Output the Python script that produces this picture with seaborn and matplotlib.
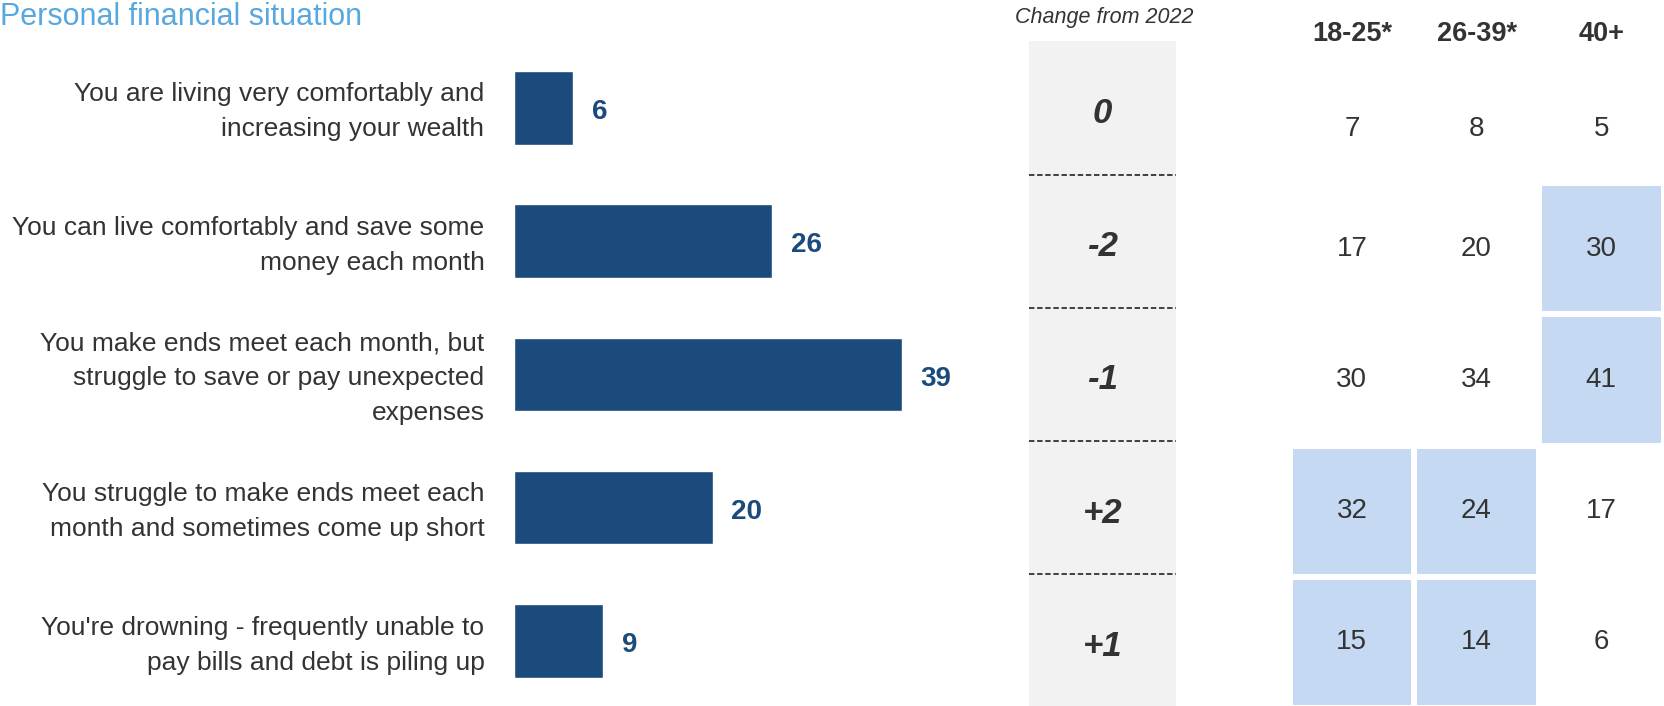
import matplotlib
matplotlib.use("Agg")
import matplotlib.pyplot as plt
from matplotlib.colors import ListedColormap
from matplotlib.transforms import ScaledTranslation
import numpy as np
import pandas as pd
import seaborn as sns

# data
categories = [
    "You are living very comfortably and\nincreasing your wealth",
    "You can live comfortably and save some\nmoney each month",
    "You make ends meet each month, but\nstruggle to save or pay unexpected\nexpenses",
    "You struggle to make ends meet each\nmonth and sometimes come up short",
    "You're drowning - frequently unable to\npay bills and debt is piling up",
]
totals = [6, 26, 39, 20, 9]
change_2022 = ["0", "-2", "-1", "+2", "+1"]
age_groups = ["18-25*", "26-39*", "40+"]
age_18_25 = [7, 17, 30, 32, 15]
age_26_39 = [8, 20, 34, 24, 14]
age_40_plus = [5, 30, 41, 17, 6]
# cells shaded light blue in the reference
hl_18_25 = [0, 0, 0, 1, 1]
hl_26_39 = [0, 0, 0, 1, 1]
hl_40_plus = [0, 1, 1, 0, 0]

sns.set_style("white")
plt.rcParams['font.family'] = ['Liberation Sans Narrow', 'Liberation Sans', 'DejaVu Sans']

BAR = "#1B4A7C"
TXT = "#333333"
W, H = 1664, 706
fig = plt.figure(figsize=(W / 100, H / 100), dpi=100)

fig.text(0, 1 - 25 / H, "Personal financial situation", color="#58A8E0",
         fontsize=22, va="baseline", ha="left")

# bars
df = pd.DataFrame({"cat": categories, "val": totals})
ax = fig.add_axes([513.6 / W, -1.7 / H, 497.5 / W, 666.5 / H])
sns.barplot(data=df, y="cat", x="val", color=BAR, width=0.55, saturation=1, ax=ax)
ax.set_xlim(0, 50)
ax.set_ylim(4.5, -0.5)
ax.set_xlabel("")
ax.set_ylabel("")
ax.set_xticks([])
ax.tick_params(axis="y", length=0, pad=21)
nudge = ScaledTranslation(0, 4 / 100, fig.dpi_scale_trans)
for lab in ax.get_yticklabels():
    lab.set_fontsize(19)
    lab.set_color(TXT)
    lab.set_linespacing(1.58)
    lab.set_horizontalalignment("right")
    lab.set_transform(lab.get_transform() + nudge)
for i, v in enumerate(totals):
    ax.annotate(str(v), xy=(v, i), xytext=(13.5, -3), textcoords="offset points",
                va="center", ha="left", fontsize=20, fontweight="bold", color=BAR)
sns.despine(ax=ax, left=True, bottom=True)

# change from 2022 column
ax2 = fig.add_axes([1029 / W, -1.7 / H, 147 / W, 666.5 / H])
ax2.set_facecolor("#F2F2F2")
ax2.set_xlim(0, 1)
ax2.set_ylim(4.5, -0.5)
for y in [0.5, 1.5, 2.5, 3.5]:
    ax2.axhline(y, color=TXT, lw=1.3, ls=(0, (3, 1.5)))
for i, c in enumerate(change_2022):
    ax2.text(0.5, i + 0.04, c, ha="center", va="center", fontsize=25,
             fontweight="bold", fontstyle="italic", color=TXT)
ax2.set_xticks([])
ax2.set_yticks([])
for s in ax2.spines.values():
    s.set_visible(False)
fig.text(1104 / W, 1 - 18 / H, "Change from 2022", ha="center", va="center",
         fontsize=15.5, fontstyle="italic", color=TXT)

# age table
vals = pd.DataFrame({age_groups[0]: age_18_25, age_groups[1]: age_26_39,
                     age_groups[2]: age_40_plus})
hl = pd.DataFrame({age_groups[0]: hl_18_25, age_groups[1]: hl_26_39,
                   age_groups[2]: hl_40_plus})
ax3 = fig.add_axes([1289.5 / W, -2 / H, 374 / W, 656 / H])
sns.heatmap(hl, annot=vals, fmt="d", cmap=ListedColormap(["white", "#C5DAF2"]),
            vmin=0, vmax=1, cbar=False, linewidths=3, linecolor="white",
            yticklabels=False, ax=ax3,
            annot_kws=dict(fontsize=20, color=TXT))
# first row numbers sit a little lower in the reference
for t in ax3.texts[:3]:
    x0, y0 = t.get_position()
    t.set_position((x0, y0 + 0.09))
ax3.xaxis.tick_top()
ax3.tick_params(axis="x", length=0, pad=3.5)
for lab in ax3.get_xticklabels():
    lab.set_fontsize(19.5)
    lab.set_fontweight("bold")
    lab.set_color(TXT)
ax3.set_xlabel("")
ax3.set_ylabel("")

plt.savefig("out.png", dpi=100)
